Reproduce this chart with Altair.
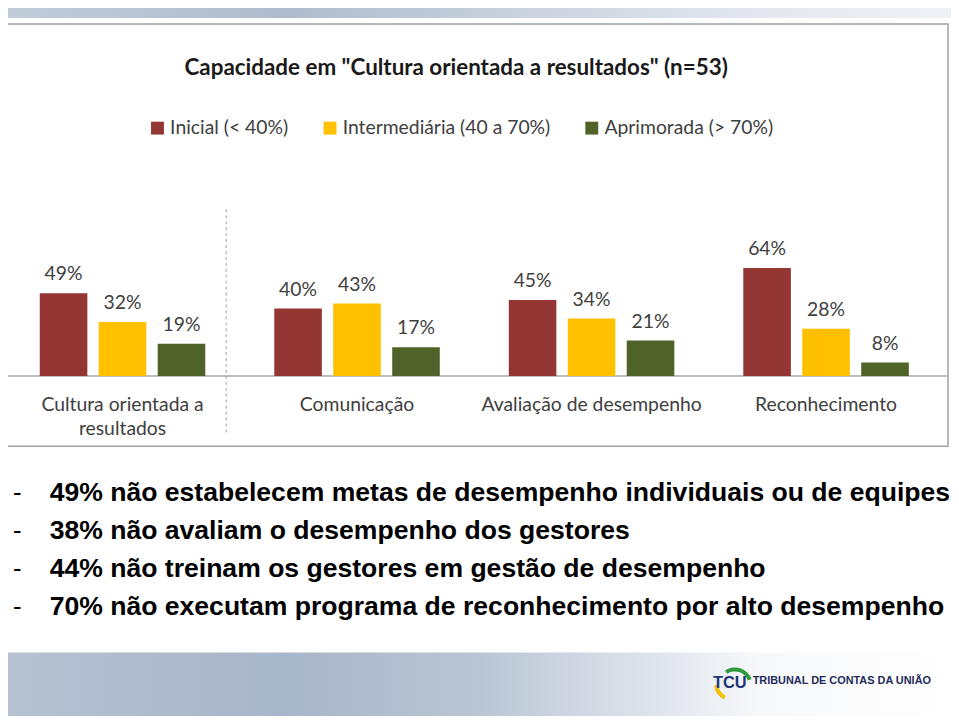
import altair as alt
import pandas as pd

# ---------------- data ----------------
categories = ["Cultura orientada a resultados", "Comunicação",
              "Avaliação de desempenho", "Reconhecimento"]
category_lines = [["Cultura orientada a", "resultados"], ["Comunicação"],
                  ["Avaliação de desempenho"], ["Reconhecimento"]]
series = ["Inicial (< 40%)", "Intermediária (40 a 70%)", "Aprimorada (> 70%)"]
inicial = [49, 40, 45, 64]
intermediaria = [32, 43, 34, 28]
aprimorada = [19, 17, 21, 8]
colors = ["#943634", "#FFC000", "#4F6228"]

title_text = 'Capacidade em "Cultura orientada a resultados" (n=53)'
bullet_lines = [
    "49% não estabelecem metas de desempenho individuais ou de equipes",
    "38% não avaliam o desempenho dos gestores",
    "44% não treinam os gestores em gestão de desempenho",
    "70% não executam programa de reconhecimento por alto desempenho",
]
footer_text = "TRIBUNAL DE CONTAS DA UNIÃO"
logo_text = "TCU"

# ---------------- tables ----------------
rows = []
for s, vals in zip(series, [inicial, intermediaria, aprimorada]):
    for c, v in zip(categories, vals):
        rows.append({"categoria": c, "serie": s, "valor": v, "rotulo": f"{v}%"})
df = pd.DataFrame(rows)
cat_df = pd.DataFrame({"categoria": categories, "linhas": category_lines})
bul_df = pd.DataFrame({"texto": bullet_lines, "ordem": list(range(len(bullet_lines)))})
one = pd.DataFrame({"k": [0]})

W, H = 951, 712
FONT = "Lato"

xscale = alt.Scale(domain=categories, range=[-2.75, 943.25], paddingInner=0, paddingOuter=0)
yscale = alt.Scale(domain=[0, 100], range=[368, 198])
xoff = alt.XOffset("serie:N", sort=series,
                   scale=alt.Scale(domain=series, paddingInner=0.193, paddingOuter=0.585))
color = alt.Color("serie:N", sort=series,
                  scale=alt.Scale(domain=series, range=colors),
                  legend=alt.Legend(orient="none", legendX=141, legendY=108,
                                    direction="horizontal", title=None,
                                    symbolType="square", symbolSize=169,
                                    symbolStrokeWidth=0, symbolOpacity=1,
                                    labelFont=FONT, labelFontSize=19.5, labelLimit=0,
                                    labelColor="#404040", labelOffset=3,
                                    columnPadding=32, padding=0))

# background pieces
top_band = alt.Chart(one).mark_rect(
    fill=alt.LinearGradient(gradient="linear", x1=0, x2=1, y1=0, y2=0, stops=[
        alt.GradientStop(color="#c3cdda", offset=0),
        alt.GradientStop(color="#aebccd", offset=0.3),
        alt.GradientStop(color="#c9d2de", offset=0.55),
        alt.GradientStop(color="#e4e8ee", offset=0.8),
        alt.GradientStop(color="#eef1f5", offset=1)])
).encode(x=alt.value(-8), x2=alt.value(W), y=alt.value(-8), y2=alt.value(7))

footer_band = alt.Chart(one).mark_rect(
    fill=alt.LinearGradient(gradient="linear", x1=0, x2=1, y1=0, y2=0, stops=[
        alt.GradientStop(color="#b6c2d2", offset=0),
        alt.GradientStop(color="#a8b6c9", offset=0.3),
        alt.GradientStop(color="#b9c5d4", offset=0.5),
        alt.GradientStop(color="#dde3eb", offset=0.68),
        alt.GradientStop(color="#f7f8fa", offset=0.8),
        alt.GradientStop(color="#ffffff", offset=1)])
).encode(x=alt.value(-8), x2=alt.value(W), y=alt.value(647), y2=alt.value(711))

box = alt.Chart(one).mark_rect(fill="white", stroke="#a0a0a0", strokeWidth=1.5).encode(
    x=alt.value(-3), x2=alt.value(948), y=alt.value(13), y2=alt.value(439))

axis_line = alt.Chart(one).mark_rule(color="#a6a6a6", strokeWidth=1.5).encode(
    x=alt.value(-3), x2=alt.value(947), y=alt.value(368))

divider = alt.Chart(one).mark_rule(color="#a0a0a0", strokeWidth=1, strokeDash=[3, 3]).encode(
    x=alt.value(220), y=alt.value(200), y2=alt.value(427))

title = alt.Chart(one).mark_text(text=title_text, font=FONT, fontSize=22.6, fontWeight="bold",
                                 color="#1a1a1a", baseline="middle", align="center").encode(
    x=alt.value(452), y=alt.value(58))

bars = alt.Chart(df).mark_bar().encode(
    x=alt.X("categoria:N", sort=categories, scale=xscale, axis=None),
    xOffset=xoff,
    y=alt.Y("valor:Q", scale=yscale, axis=None),
    color=color,
)

values = alt.Chart(df).mark_text(font=FONT, fontSize=19.5, color="#404040",
                                 baseline="alphabetic", dy=-13).encode(
    x=alt.X("categoria:N", sort=categories, scale=xscale, axis=None),
    xOffset=xoff,
    y=alt.Y("valor:Q", scale=yscale, axis=None),
    text="rotulo:N",
)

cat_labels = alt.Chart(cat_df).mark_text(font=FONT, fontSize=19.5, color="#404040",
                                         baseline="alphabetic", lineHeight=25).encode(
    x=alt.X("categoria:N", sort=categories, scale=xscale, axis=None),
    y=alt.value(403),
    text="linhas",
)

bul_scale = alt.Scale(domain=[0, len(bullet_lines) - 1], range=[486, 601])
dashes = alt.Chart(bul_df).mark_text(text="-", font="Liberation Sans", fontSize=26,
                                     color="black", align="left", baseline="middle").encode(
    x=alt.value(5),
    y=alt.Y("ordem:Q", scale=bul_scale, axis=None),
)
bullets = alt.Chart(bul_df).mark_text(font="Liberation Sans", fontSize=26.8, fontWeight="bold",
                                      color="black", align="left", baseline="middle").encode(
    x=alt.value(42),
    y=alt.Y("ordem:Q", scale=bul_scale, axis=None),
    text="texto:N",
)

green_arc = alt.Chart(one).mark_arc(color="#2e9a3a", radius=18, radius2=14,
                                    theta=5.7, theta2=7.5).encode(
    x=alt.value(733), y=alt.value(680))
yellow_arc = alt.Chart(one).mark_arc(color="#f2c200", radius=18, radius2=14,
                                     theta=3.6, theta2=4.6).encode(
    x=alt.value(730), y=alt.value(678))
logo = alt.Chart(one).mark_text(text=logo_text, font="Liberation Sans", fontSize=16.5,
                                fontWeight="bold", color="#1d3577",
                                align="left", baseline="middle").encode(
    x=alt.value(711), y=alt.value(678))
footer = alt.Chart(one).mark_text(text=footer_text, font="Liberation Sans", fontSize=11,
                                  fontWeight="bold", color="#1f2b5a",
                                  align="left", baseline="middle").encode(
    x=alt.value(751), y=alt.value(676))

chart = alt.layer(
    top_band, footer_band, box, axis_line, divider, title,
    bars, values, cat_labels, dashes, bullets,
    green_arc, yellow_arc, logo, footer,
).resolve_scale(y="independent").properties(
    width=W, height=H, autosize="none", padding=0, background="white"
).configure_view(stroke=None)

chart.save("out.html", embed_options={"renderer": "svg", "actions": False})
